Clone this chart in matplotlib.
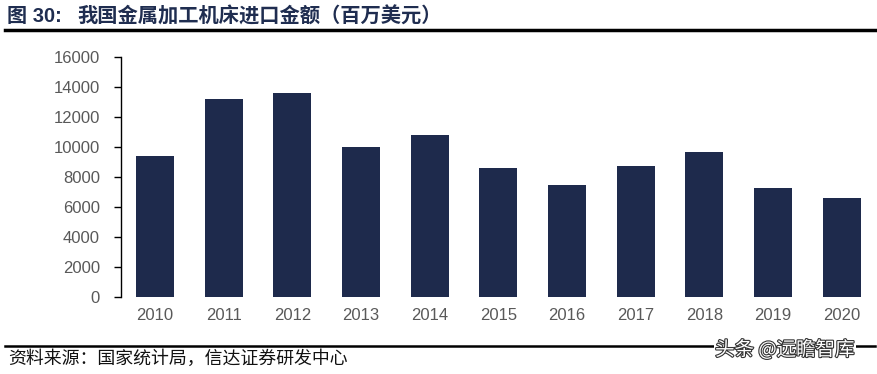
import matplotlib
matplotlib.use("Agg")
import matplotlib.pyplot as plt
import matplotlib.patheffects as pe
from matplotlib.lines import Line2D

plt.rcParams['font.family'] = ['Liberation Sans', 'Noto Sans CJK SC', 'DejaVu Sans']

years = ["2010", "2011", "2012", "2013", "2014", "2015",
         "2016", "2017", "2018", "2019", "2020"]
imports = [9400, 13200, 13640, 10040, 10800, 8600,
           7490, 8730, 9660, 7270, 6600]
yticks = [0, 2000, 4000, 6000, 8000, 10000, 12000, 14000, 16000]

title_num = "图 30:"
title = "我国金属加工机床进口金额（百万美元）"
source = "资料来源：国家统计局，信达证券研发中心"
mark = "头条 @远瞻智库"

bar_color = "#1e2a4c"
tick_color = "#595959"

fig = plt.figure(figsize=(8.78, 3.74), dpi=100)
ax = fig.add_axes([120.7 / 878, 76.7 / 374, (876 - 120.7) / 878, 240 / 374])

x = range(len(years))
ax.bar(x, imports, width=0.55, color=bar_color)
ax.set_xlim(-0.5, len(years) - 0.5)
ax.set_ylim(0, 16000)
ax.set_yticks(yticks)
ax.set_xticks(list(x))
ax.set_xticklabels(years)

for s in ["top", "right", "bottom"]:
    ax.spines[s].set_visible(False)
ax.spines["left"].set_linewidth(1.0)
ax.tick_params(axis="y", direction="out", length=5, width=1,
               labelsize=12, labelcolor=tick_color, pad=10)
ax.tick_params(axis="x", length=0, labelsize=12, labelcolor=tick_color, pad=8)

# header and footer
fig.text(7 / 878, 1 - 16 / 374, title_num, fontsize=14.5, fontweight="bold",
         color="#1f2d50", va="center", ha="left",
         family=['Liberation Sans', 'Noto Sans CJK SC'])
fig.text(77 / 878, 1 - 16 / 374, title, fontsize=14.6, fontweight="bold",
         color="#1f2d50", va="center", ha="left",
         family=['Noto Sans CJK SC'])
fig.add_artist(Line2D([5 / 878, 875 / 878], [1 - 30 / 374, 1 - 30 / 374],
                      color="black", lw=2.5, transform=fig.transFigure))
fig.add_artist(Line2D([5 / 878, 875 / 878], [1 - 345.5 / 374, 1 - 345.5 / 374],
                      color="black", lw=1.8, transform=fig.transFigure))
fig.text(8 / 878, 1 - 359 / 374, source, fontsize=12.9, color="#111111",
         va="center", ha="left", family=['Noto Sans CJK SC'])
fig.text(785 / 878, 1 - 350 / 374, mark, fontsize=14, color="white",
         va="center", ha="center", family=['Noto Sans CJK SC'],
         bbox=dict(facecolor="white", edgecolor="none", pad=1),
         path_effects=[pe.withStroke(linewidth=1.6, foreground="#333333")])

fig.savefig("out.png", dpi=100)
